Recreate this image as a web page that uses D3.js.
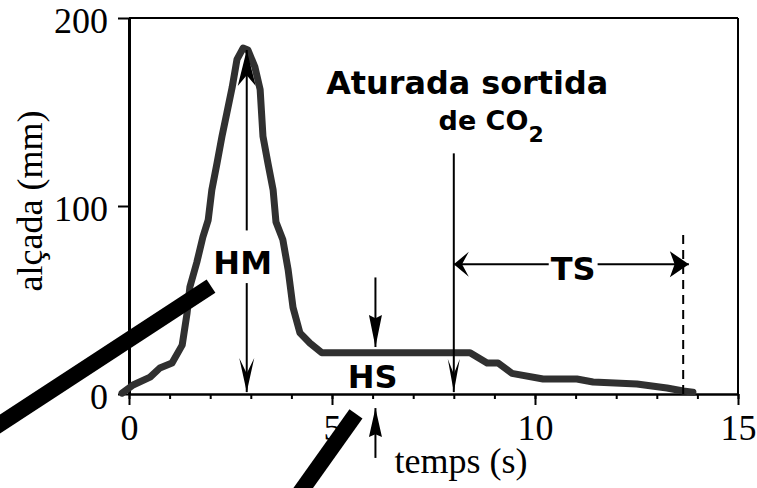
<!DOCTYPE html>
<html>
<head>
<meta charset="utf-8">
<script src="https://cdn.jsdelivr.net/npm/d3@7"></script>
<style>
  body { margin: 0; background: #fff; }
  svg { display: block; }
  .tick text { font-family: "Liberation Serif", "Times New Roman", serif; font-size: 36px; fill: #000; }
  .axis-title { font-family: "Liberation Serif", "Times New Roman", serif; font-size: 36px; fill: #000; }
  .note { font-family: "DejaVu Sans", sans-serif; font-weight: bold; font-size: 32px; fill: #000; }
</style>
</head>
<body>
<div class="root"></div>
<script>
// curve: time (s) vs height (mm)
var timeS = [-0.17, 0.10, 0.52, 0.76, 1.06, 1.31, 1.43, 1.50, 1.67, 1.82, 1.95, 2.04, 2.17, 2.29, 2.41,
             2.54, 2.66, 2.81, 2.93, 3.10, 3.23, 3.30, 3.42, 3.55, 3.62, 3.79, 3.92, 4.04, 4.21, 4.46,
             4.75, 8.40, 8.82, 9.09, 9.43, 10.2, 11.03, 11.43, 12.51, 13.25, 13.65, 13.89];
var heightMm = [0.5, 4.8, 9.0, 13.8, 16.5, 26, 43, 57, 70, 83.5, 92.5, 108.5, 123, 137, 149.5,
                163, 178, 184, 183, 174, 162, 137, 123, 108.5, 91.5, 82, 66, 46, 32.5, 27,
                22, 22, 16.5, 16.5, 11, 8, 8, 6.4, 5.3, 3.2, 1.6, 1];

var xMajorTicks = [0, 5, 10, 15];
var xMinorTicks = [0, 1, 2, 3, 4, 5, 6, 7, 8, 9, 10, 11, 12, 13, 14, 15];
var yTicks = [0, 100, 200];

// annotation anchors, in data units (s, mm)
var hmX = 2.9, hmUp = [87, 183], hmDown = [59, 1];
var hsX = 6.07, hsDown = [62, 25], hsUp = [-34, -7.5];
var stopX = 8.0, stopArrow = [128, 1];
var tsLevel = 69, tsSpan = [8.0, 13.79];
var endX = 13.65, endDash = [0, 85];
var slashA = [[-3.5, -20.5], [2.02, 57.4]];
var slashB = [[4.0, -58.8], [5.59, -10.6]];

var noteLabels = [
  {text: 'HM', t: 2.8, h: 64},
  {text: 'HS', t: 6.0, h: 3.2},
  {text: 'TS', t: 10.94, h: 60.6}
];

function draw() {
  var w = 757, h = 488;
  var svg = d3.select('.root').append('svg')
    .attr('width', w)
    .attr('height', h);

  var x = d3.scaleLinear().domain([0, 15]).range([129, 738]);
  var y = d3.scaleLinear().domain([0, 200]).range([394, 18]);

  // frame
  svg.append('line').attr('x1', x(0)).attr('x2', x(15)).attr('y1', y(200)).attr('y2', y(200))
    .attr('stroke', '#000').attr('stroke-width', 2);
  svg.append('line').attr('x1', x(15)).attr('x2', x(15)).attr('y1', y(200)).attr('y2', y(0))
    .attr('stroke', '#000').attr('stroke-width', 2);

  // x axis: minor then major ticks
  var xMinor = svg.append('g')
    .attr('transform', 'translate(0,' + y(0) + ')')
    .call(d3.axisBottom(x).tickValues(xMinorTicks).tickSize(5).tickSizeOuter(0).tickFormat(''));
  xMinor.select('.domain').attr('stroke-width', 2.5);
  xMinor.selectAll('.tick line').attr('stroke-width', 2);

  var xMajor = svg.append('g')
    .attr('transform', 'translate(0,' + y(0) + ')')
    .call(d3.axisBottom(x).tickValues(xMajorTicks).tickSize(11).tickSizeOuter(0));
  xMajor.select('.domain').remove();
  xMajor.selectAll('.tick line').attr('stroke-width', 2);
  xMajor.selectAll('.tick text').attr('y', 46).attr('dy', 0);

  var yAxis = svg.append('g')
    .attr('transform', 'translate(' + x(0) + ',0)')
    .call(d3.axisLeft(y).tickValues(yTicks).tickSize(11).tickSizeOuter(0));
  yAxis.select('.domain').attr('stroke-width', 3);
  yAxis.selectAll('.tick line').attr('stroke-width', 2);
  yAxis.selectAll('.tick text').attr('x', -21).attr('dy', 14);

  svg.append('text')
    .attr('class', 'axis-title')
    .attr('x', 461)
    .attr('y', 473)
    .attr('text-anchor', 'middle')
    .text('temps (s)');

  svg.append('text')
    .attr('class', 'axis-title')
    .attr('transform', 'translate(42,201) rotate(-90)')
    .attr('text-anchor', 'middle')
    .text('alçada (mm)');

  // the curve
  var line = d3.line()
    .x(function(d) { return x(d[0]); })
    .y(function(d) { return y(d[1]); });
  var pts = timeS.map(function(t, i) { return [t, heightMm[i]]; });
  svg.append('path')
    .attr('d', line(pts))
    .attr('fill', 'none')
    .attr('stroke', '#303030')
    .attr('stroke-width', 7)
    .attr('stroke-linejoin', 'round')
    .attr('stroke-linecap', 'round');

  var ann = svg.append('g');

  function head(px, py, angle, len, wid, notch) {
    var p = 'M0,0 L' + (-len) + ',' + (-wid / 2) + ' L' + (-len * (1 - notch)) + ',0 L' +
      (-len) + ',' + (wid / 2) + 'Z';
    ann.append('path')
      .attr('d', p)
      .attr('transform', 'translate(' + px + ',' + py + ') rotate(' + angle + ')')
      .attr('fill', '#000');
  }

  function vArrow(t, from, to, len, wid, notch) {
    ann.append('line')
      .attr('x1', x(t)).attr('x2', x(t))
      .attr('y1', y(from)).attr('y2', y(to))
      .attr('stroke', '#000').attr('stroke-width', 2);
    head(x(t), y(to), to > from ? -90 : 90, len, wid, notch);
  }

  vArrow(hmX, hmUp[0], hmUp[1], 36, 18, 0.3);
  vArrow(hmX, hmDown[0], hmDown[1], 34, 15, 0.45);
  vArrow(hsX, hsDown[0], hsDown[1], 32, 13, 0.1);
  vArrow(hsX, hsUp[0], hsUp[1], 29, 13, 0.1);
  vArrow(stopX, stopArrow[0], stopArrow[1], 33, 12, 0.45);

  // TS double arrow
  ann.append('line')
    .attr('x1', x(tsSpan[0])).attr('x2', x(tsSpan[1]))
    .attr('y1', y(tsLevel)).attr('y2', y(tsLevel))
    .attr('stroke', '#000').attr('stroke-width', 2);
  head(x(tsSpan[0]), y(tsLevel), 180, 15, 25, 0.45);
  head(x(tsSpan[1]), y(tsLevel), 0, 19, 26, 0.25);

  ann.append('line')
    .attr('x1', x(endX)).attr('x2', x(endX))
    .attr('y1', y(endDash[0])).attr('y2', y(endDash[1]))
    .attr('stroke', '#000').attr('stroke-width', 2)
    .attr('stroke-dasharray', '9,6');

  // labels
  noteLabels.forEach(function(d) {
    var t = ann.append('text')
      .attr('class', 'note')
      .attr('x', x(d.t))
      .attr('y', y(d.h))
      .attr('text-anchor', 'middle')
      .text(d.text);
    if (d.text == 'TS') {
      var b = t.node().getBBox();
      ann.insert('rect', 'text')
        .attr('x', b.x - 2).attr('y', b.y + 4)
        .attr('width', b.width + 4).attr('height', b.height - 8)
        .attr('fill', '#fff');
    }
  });

  ann.append('text')
    .attr('class', 'note')
    .attr('x', x(8.33))
    .attr('y', y(159.6))
    .attr('text-anchor', 'middle')
    .attr('textLength', 282)
    .attr('lengthAdjust', 'spacingAndGlyphs')
    .text('Aturada sortida');

  var co = ann.append('text')
    .attr('class', 'note')
    .attr('x', x(8.92))
    .attr('y', y(140.4))
    .attr('text-anchor', 'middle')
    .style('font-size', '27px');
  co.append('tspan').text('de CO');
  co.append('tspan').attr('dy', 12).style('font-size', '22px').text('2');

  // the two heavy slashes drawn over everything
  [slashA, slashB].forEach(function(s) {
    svg.append('line')
      .attr('x1', x(s[0][0])).attr('y1', y(s[0][1]))
      .attr('x2', x(s[1][0])).attr('y2', y(s[1][1]))
      .attr('stroke', '#000')
      .attr('stroke-width', 16);
  });
}

window.onload = function() {
  draw();
};
</script>
</body>
</html>
